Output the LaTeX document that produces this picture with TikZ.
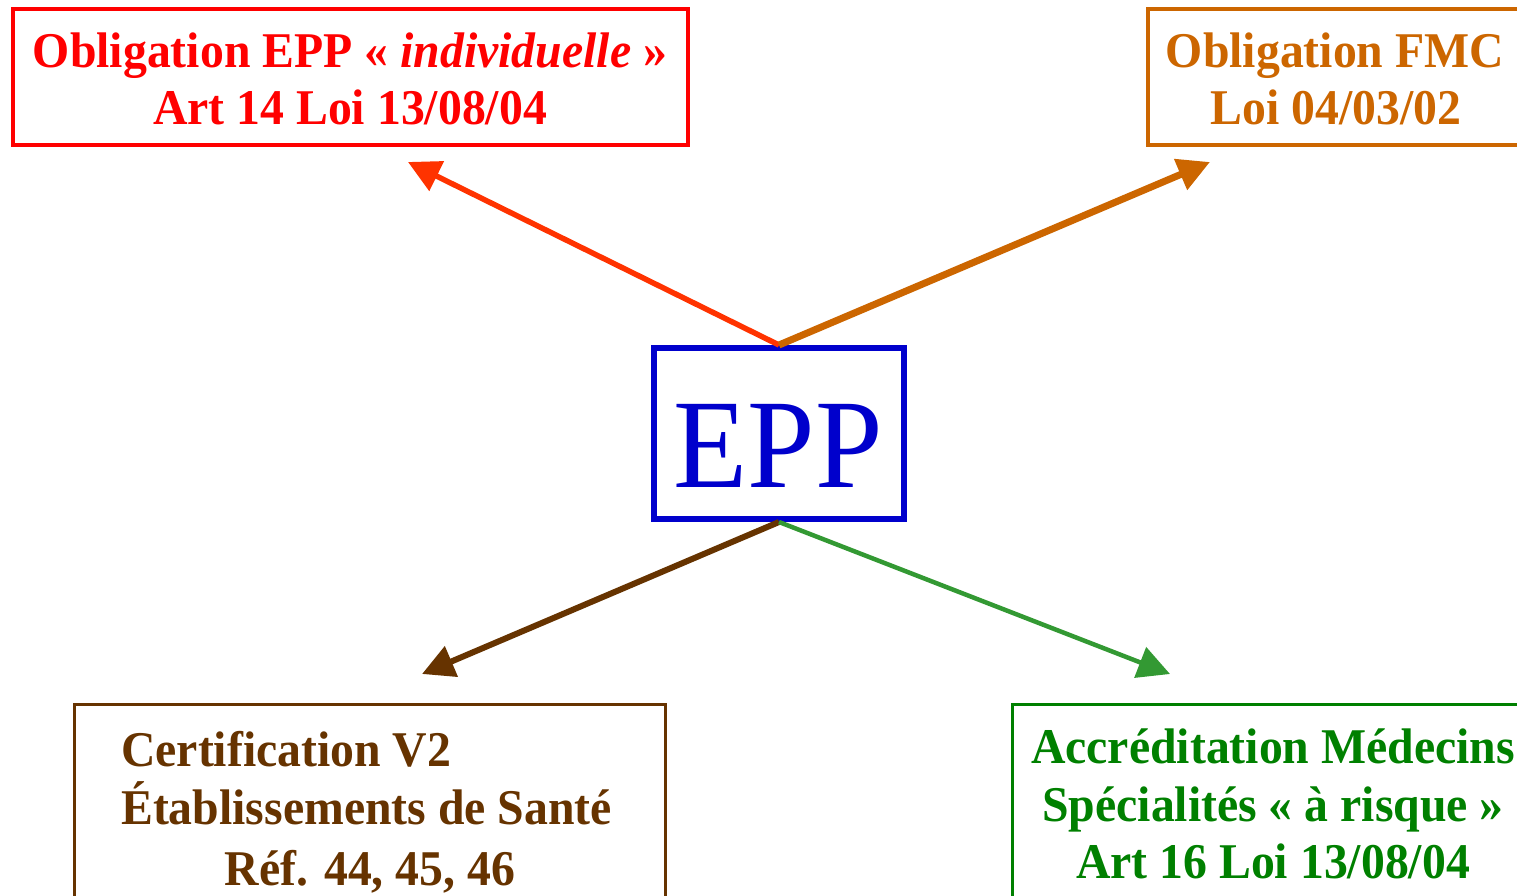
\documentclass[tikz,border=0pt]{standalone}
\usepackage{fontspec}
\setmainfont{Liberation Serif}[FakeStretch=0.955]
\usetikzlibrary{arrows.meta}
\definecolor{cred}{HTML}{FF0000}
\definecolor{cared}{HTML}{FF3300}
\definecolor{corange}{HTML}{CC6600}
\definecolor{cblue}{HTML}{0000CC}
\definecolor{cbrown}{HTML}{663300}
\definecolor{cgreen}{HTML}{008000}
\definecolor{cagreen}{HTML}{339933}
\tikzset{
  box/.style={draw, inner sep=0pt, fill=none},
  txt/.style={anchor=base, inner sep=0pt, font=\fontsize{50}{57}\selectfont\bfseries},
  arr/.style={-{Triangle[length=32pt,width=32pt]}},
}
\begin{document}
\begin{tikzpicture}[x=1pt,y=-1pt]
\useasboundingbox (0,0) rectangle (1517,896);
% boxes
\node[box, draw=cred, line width=4pt, minimum width=675pt, minimum height=136pt] (red) at (350.5,77) {};
\node[box, draw=corange, line width=3.5pt, minimum width=400pt, minimum height=136pt] (orange) at (1348,77) {};
\node[box, draw=cblue, line width=6pt, minimum width=250pt, minimum height=171pt] (epp) at (779,433.5) {};
\node[box, draw=cbrown, line width=3pt, minimum width=591pt, minimum height=220pt] (brown) at (369.5,814) {};
\node[box, draw=cgreen, line width=3pt, minimum width=520pt, minimum height=220pt] (green) at (1272,814) {};
% texts
\node[txt, text=cred] (r1) at (350,68) {Obligation EPP « {\itshape individuelle} »};
\node[txt, text=cred] (r2) at (350,125) {Art 14 Loi 13/08/04};
\node[txt, text=corange] (o1) at (1335,68) {Obligation FMC};
\node[txt, text=corange] (o2) at (1336,125) {Loi 04/03/02};
\node[anchor=base, inner sep=0pt, text=cblue, font=\fontsize{127}{127}\selectfont] (eppt) at (778,487) {EPP};
\node[txt, text=cbrown, anchor=base west] (b1) at (121,766) {Certification V2};
\node[txt, text=cbrown, anchor=base west] (b2) at (121,824) {Établissements de Santé};
\node[txt, text=cbrown] (b3) at (370,885) {Réf. 44, 45, 46};
\node[txt, text=cgreen] (g1) at (1273,763) {Accréditation Médecins};
\node[txt, text=cgreen] (g2) at (1273,821) {Spécialités « à risque »};
\node[txt, text=cgreen] (g3) at (1273,878) {Art 16 Loi 13/08/04};
% arrow ends
\coordinate (tr) at (408,162);
\coordinate (to) at (1210,162);
\coordinate (tb) at (422,674);
\coordinate (tg) at (1170,674);
\draw[arr, draw=cared, fill=cared, line width=5.5pt] (epp.north) -- (tr);
\draw[arr, draw=corange, fill=corange, line width=7pt] (epp.north) -- (to);
\draw[arr, draw=cbrown, fill=cbrown, line width=6pt] (epp.south) -- (tb);
\draw[arr, draw=cagreen, fill=cagreen, line width=4.5pt] (epp.south) -- (tg);
\end{tikzpicture}
\end{document}
